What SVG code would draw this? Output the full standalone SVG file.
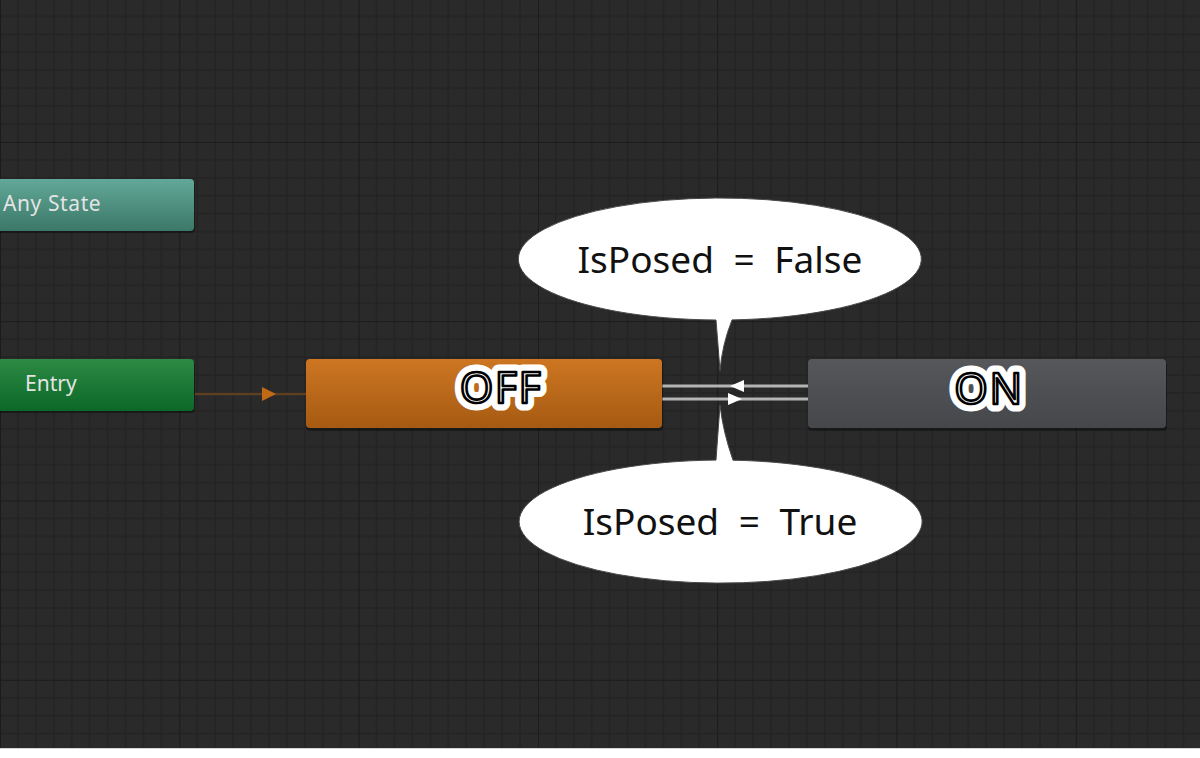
<svg xmlns="http://www.w3.org/2000/svg" width="1200" height="758" viewBox="0 0 1200 758">
<defs>
<pattern id="grid" patternUnits="userSpaceOnUse" x="0" y="-37.4" width="179.3" height="179.3">
<rect width="179.3" height="179.3" fill="#2a2a2a"/>
<g stroke="#232323" stroke-width="1.6">
<path d="M17.93 0V179.3M35.86 0V179.3M53.79 0V179.3M71.72 0V179.3M89.65 0V179.3M107.58 0V179.3M125.51 0V179.3M143.44 0V179.3M161.37 0V179.3"/>
<path d="M0 17.93H179.3M0 35.86H179.3M0 53.79H179.3M0 71.72H179.3M0 89.65H179.3M0 107.58H179.3M0 125.51H179.3M0 143.44H179.3M0 161.37H179.3"/>
</g>
<path d="M0 0V179.3M0 0H179.3" stroke="#1b1b1b" stroke-width="2"/>
</pattern>
<linearGradient id="gAny" x1="0" y1="0" x2="0" y2="1"><stop offset="0" stop-color="#62a898"/><stop offset="1" stop-color="#3b7868"/></linearGradient>
<linearGradient id="gEntry" x1="0" y1="0" x2="0" y2="1"><stop offset="0" stop-color="#2c8a44"/><stop offset="1" stop-color="#0b6828"/></linearGradient>
<linearGradient id="gOff" x1="0" y1="0" x2="0" y2="1"><stop offset="0" stop-color="#cd7622"/><stop offset="1" stop-color="#a65a12"/></linearGradient>
<linearGradient id="gOn" x1="0" y1="0" x2="0" y2="1"><stop offset="0" stop-color="#55575b"/><stop offset="1" stop-color="#45474b"/></linearGradient>
</defs>
<style>
.small{font-family:"Noto Sans","DejaVu Sans",sans-serif;font-size:21px;fill:#e4e4e4}
.halo{font-family:"Noto Sans","DejaVu Sans",sans-serif;font-size:43px;letter-spacing:1.5px;fill:#fff;stroke:#fff;stroke-width:15;stroke-linejoin:round;text-anchor:middle}
.big{font-family:"Noto Sans","DejaVu Sans",sans-serif;font-size:43px;letter-spacing:1.5px;fill:#fff;stroke:#000;stroke-width:2.6;stroke-linejoin:round;text-anchor:middle}
.bubble{fill:#fff;stroke:#4a4a4a;stroke-width:1}
.btext{font-family:"Noto Sans","DejaVu Sans",sans-serif;font-size:37px;fill:#111;text-anchor:middle;word-spacing:10px}
.shadow{fill:#000;opacity:0.35}
.trans{stroke:#b4b4b4;stroke-width:3;fill:none}
</style>
<rect width="1200" height="758" fill="url(#grid)"/>
<rect x="0" y="748" width="1200" height="10" fill="#fff"/>
<line x1="0" y1="748.5" x2="1200" y2="748.5" stroke="#d6d6d6"/>

<g id="connectors">
<line x1="195" y1="394" x2="306" y2="394" stroke="#5e4020" stroke-width="2.5"/>
<polygon points="262,387 262,401 276,394" fill="#c06a18"/>
<line class="trans" x1="662" y1="386" x2="808" y2="386"/>
<line class="trans" x1="662" y1="399" x2="808" y2="399"/>
<polygon points="730,386 744,380 744,392" fill="#fff"/>
<polygon points="742,399 728,393 728,405" fill="#fff"/>
</g>

<g id="any-state">
<rect class="shadow" x="-10" y="181" width="205" height="52" rx="4"/>
<rect x="-10" y="179" width="204" height="52" rx="4" fill="url(#gAny)"/>
<text class="small" x="3" y="211" letter-spacing="0.6">Any State</text>
</g>

<g id="entry">
<rect class="shadow" x="-10" y="361" width="205" height="52" rx="4"/>
<rect x="-10" y="359" width="204" height="52" rx="4" fill="url(#gEntry)"/>
<text class="small" x="25" y="391">Entry</text>
</g>

<g id="off">
<rect class="shadow" x="306" y="361" width="357" height="70" rx="4"/>
<rect x="306" y="359" width="356" height="69" rx="4" fill="url(#gOff)"/>
<text class="halo" x="501" y="403">OFF</text>
<text class="big" x="501" y="403">OFF</text>
</g>

<g id="on">
<rect class="shadow" x="808" y="361" width="359" height="70" rx="4"/>
<rect x="808" y="359" width="358" height="69" rx="4" fill="url(#gOn)"/>
<text class="halo" x="989" y="404">ON</text>
<text class="big" x="989" y="404">ON</text>
</g>

<g id="bubble-false">
<path class="bubble" d="M732 319.9 A201.5 61 0 1 0 716 320 Q718 345 720 371 Q722 345 732 319.9 Z"/>
<text class="btext" x="720" y="273">IsPosed = False</text>
</g>

<g id="bubble-true">
<path class="bubble" d="M716 460.1 A201.5 61.5 0 1 0 733 460.2 Q723 432 720 405 Q718 432 716 460.1 Z"/>
<text class="btext" x="720" y="535">IsPosed = True</text>
</g>
</svg>
